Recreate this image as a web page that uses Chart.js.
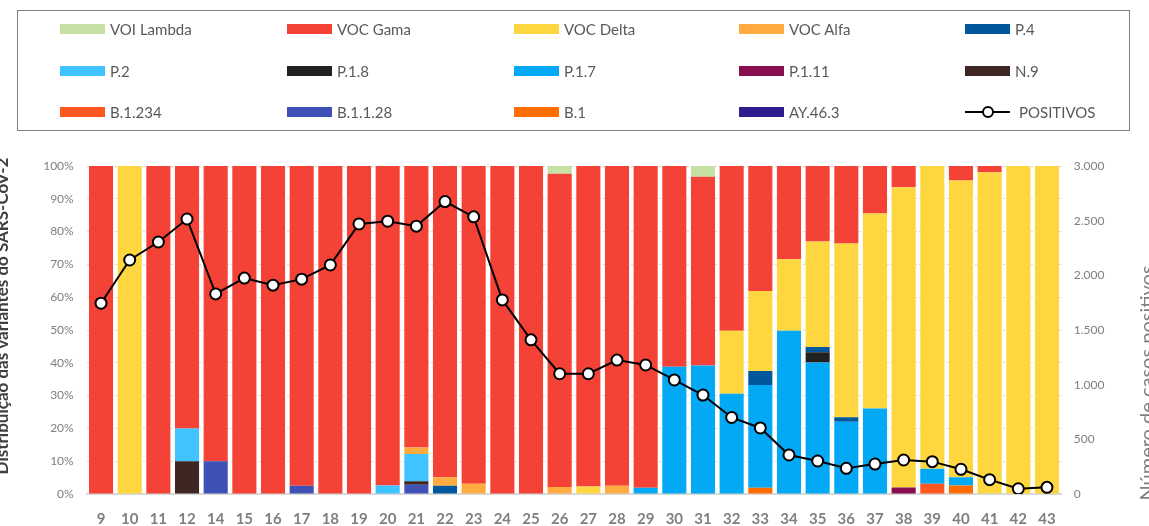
<!DOCTYPE html>
<html lang="pt">
<head>
<meta charset="UTF-8">
<title>Distribuição das variantes do SARS-CoV-2</title>
<script src="https://cdn.jsdelivr.net/npm/chart.js@4.4.1/dist/chart.umd.min.js"></script>
<style>
    html, body {
        margin: 0;
        padding: 0;
        background: #fff;
        overflow: hidden;
    }
    #wrap {
        position: relative;
        width: 1149px;
        height: 526px;
    }
    #chart {
        position: absolute;
        left: 0;
        top: 0;
    }
    #legend {
        position: absolute;
        left: 17px;
        top: 10px;
        width: 1113px;
        height: 121px;
        border: 1px solid #7f7f7f;
        box-sizing: border-box;
    }
    .item {
        position: absolute;
        height: 20px;
        font-family: Lato, "Liberation Sans", sans-serif;
        font-size: 15px;
        color: #595959;
        line-height: 20px;
        white-space: nowrap;
    }
    .swatch {
        position: absolute;
        left: 0;
        top: 5px;
        width: 45px;
        height: 10px;
    }
    .label {
        position: absolute;
        left: 50px;
        top: 0;
    }
    .lineKey {
        position: absolute;
        left: 0;
        top: 9px;
        width: 45px;
        height: 2px;
        background: #000;
    }
    .dotKey {
        position: absolute;
        left: 17px;
        top: 4px;
        width: 8px;
        height: 8px;
        border: 2px solid #000;
        border-radius: 50%;
        background: #fff;
    }
</style>
</head>
<body>
<div id="wrap">
    <canvas id="chart" width="1149" height="526"></canvas>
    <div id="legend"></div>
</div>

<script>
    // semanas epidemiológicas (a semana 13 não aparece)
    const weeks = ['9', '10', '11', '12', '14', '15', '16', '17', '18', '19', '20', '21', '22', '23', '24', '25', '26',
        '27', '28', '29', '30', '31', '32', '33', '34', '35', '36', '37', '38', '39', '40', '41', '42', '43'];

    // % de cada variante por semana
    const lambda  = [0, 0, 0, 0, 0, 0, 0, 0, 0, 0, 0, 0, 0, 0, 0, 0, 2.4, 0, 0, 0, 0, 3.3, 0, 0, 0, 0, 0, 0, 0, 0, 0, 0, 0, 0];
    const gama    = [100, 0, 100, 80, 90, 100, 100, 97.5, 100, 100, 97.4, 85.8, 94.9, 96.9, 100, 100, 95.5, 97.7, 97.5, 98.1,
        61.2, 57.5, 50.2, 38.1, 28.4, 23, 23.6, 14.5, 6.5, 0, 4.4, 1.9, 0, 0];
    const delta   = [0, 100, 0, 0, 0, 0, 0, 0, 0, 0, 0, 0, 0, 0, 0, 0, 0, 2.3, 0, 0,
        0, 0, 19.2, 24.4, 21.8, 32.2, 53, 59.4, 91.5, 92.3, 90.5, 98.1, 100, 100];
    const alfa    = [0, 0, 0, 0, 0, 0, 0, 0, 0, 0, 0, 2.0, 2.6, 3.1, 0, 0, 2.1, 0, 2.5, 0, 0, 0, 0, 0, 0, 0, 0, 0, 0, 0, 0, 0, 0, 0];
    const p4      = [0, 0, 0, 0, 0, 0, 0, 0, 0, 0, 0, 0, 2.5, 0, 0, 0, 0, 0, 0, 0, 0, 0, 0, 4.3, 0, 1.6, 1.4, 0, 0, 0, 0, 0, 0, 0];
    const p2      = [0, 0, 0, 10, 0, 0, 0, 0, 0, 0, 2.6, 8.3, 0, 0, 0, 0, 0, 0, 0, 0, 0, 0, 0, 0, 0, 0, 0, 0, 0, 0, 0, 0, 0, 0];
    const p18     = [0, 0, 0, 0, 0, 0, 0, 0, 0, 0, 0, 0, 0, 0, 0, 0, 0, 0, 0, 0, 0, 0, 0, 0, 0, 3.1, 0, 0, 0, 0, 0, 0, 0, 0];
    const p17     = [0, 0, 0, 0, 0, 0, 0, 0, 0, 0, 0, 0, 0, 0, 0, 0, 0, 0, 0, 1.9,
        38.8, 39.2, 30.6, 31.3, 49.8, 40.1, 22, 26.1, 0, 4.6, 2.5, 0, 0, 0];
    const p111    = [0, 0, 0, 0, 0, 0, 0, 0, 0, 0, 0, 0, 0, 0, 0, 0, 0, 0, 0, 0, 0, 0, 0, 0, 0, 0, 0, 0, 2.0, 0, 0, 0, 0, 0];
    const n9      = [0, 0, 0, 10, 0, 0, 0, 0, 0, 0, 0, 1.1, 0, 0, 0, 0, 0, 0, 0, 0, 0, 0, 0, 0, 0, 0, 0, 0, 0, 0, 0, 0, 0, 0];
    const b1234   = [0, 0, 0, 0, 0, 0, 0, 0, 0, 0, 0, 0, 0, 0, 0, 0, 0, 0, 0, 0, 0, 0, 0, 0, 0, 0, 0, 0, 0, 3.1, 0, 0, 0, 0];
    const b1128   = [0, 0, 0, 0, 10, 0, 0, 2.5, 0, 0, 0, 2.8, 0, 0, 0, 0, 0, 0, 0, 0, 0, 0, 0, 0, 0, 0, 0, 0, 0, 0, 0, 0, 0, 0];
    const b1      = [0, 0, 0, 0, 0, 0, 0, 0, 0, 0, 0, 0, 0, 0, 0, 0, 0, 0, 0, 0, 0, 0, 0, 1.9, 0, 0, 0, 0, 0, 0, 2.6, 0, 0, 0];
    const ay463   = [0, 0, 0, 0, 0, 0, 0, 0, 0, 0, 0, 0, 0, 0, 0, 0, 0, 0, 0, 0, 0, 0, 0, 0, 0, 0, 0, 0, 0, 0, 0, 0, 0, 0];

    // número de casos positivos por semana
    const positivos = [1745, 2140, 2305, 2515, 1830, 1975, 1910, 1965, 2095, 2470, 2495, 2450, 2675, 2535, 1775, 1410,
        1100, 1100, 1225, 1180, 1043, 905, 700, 604, 357, 302, 235, 274, 311, 296, 226, 131, 48, 61];

    // séries na ordem da legenda (a pilha é desenhada de baixo para cima na ordem inversa)
    const series = [
        { name: 'VOI Lambda', data: lambda, color: '#c5e1a5' },
        { name: 'VOC Gama', data: gama, color: '#f44336' },
        { name: 'VOC Delta', data: delta, color: '#fed740' },
        { name: 'VOC Alfa', data: alfa, color: '#ffab40' },
        { name: 'P.4', data: p4, color: '#01579b' },
        { name: 'P.2', data: p2, color: '#40c4ff' },
        { name: 'P.1.8', data: p18, color: '#212121' },
        { name: 'P.1.7', data: p17, color: '#03a9f4' },
        { name: 'P.1.11', data: p111, color: '#880e4f' },
        { name: 'N.9', data: n9, color: '#3e2723' },
        { name: 'B.1.234', data: b1234, color: '#ff5722' },
        { name: 'B.1.1.28', data: b1128, color: '#3f51b5' },
        { name: 'B.1', data: b1, color: '#ff6d00' },
        { name: 'AY.46.3', data: ay463, color: '#311b92' },
    ];

    // legenda em 5 colunas
    const legendCols = [60, 287, 514, 739, 965];
    const legendRows = [19, 61, 102];
    const legendEl = document.getElementById('legend');
    const legendItems = series.map(s => ({ name: s.name, color: s.color }));
    legendItems.push({ name: 'POSITIVOS', line: true });
    legendItems.forEach((it, i) => {
        const div = document.createElement('div');
        div.className = 'item';
        div.style.left = (legendCols[i % 5] - 18) + 'px';
        div.style.top = (legendRows[Math.floor(i / 5)] - 11) + 'px';
        if (it.line) {
            div.innerHTML = '<div class="lineKey"></div><div class="dotKey"></div><div class="label" style="left:54px">' + it.name + '</div>';
        } else {
            div.innerHTML = '<div class="swatch" style="background:' + it.color + '"></div><div class="label">' + it.name + '</div>';
        }
        legendEl.appendChild(div);
    });

    function thousands(v) {
        return String(v).replace(/\B(?=(\d{3})+(?!\d))/g, '.');
    }

    // títulos dos eixos verticais (cortados nas bordas, como no original)
    const axisTitles = {
        id: 'axisTitles',
        afterDraw(chart) {
            const ctx = chart.ctx;
            ctx.save();
            ctx.translate(8, 316);
            ctx.rotate(-Math.PI / 2);
            ctx.font = 'bold 17px Lato, sans-serif';
            ctx.fillStyle = '#404040';
            ctx.textAlign = 'center';
            ctx.textBaseline = 'alphabetic';
            ctx.fillText('Distribuição das variantes do SARS-CoV-2', 0, 0);
            ctx.restore();

            ctx.save();
            ctx.translate(1154, 383);
            ctx.rotate(-Math.PI / 2);
            ctx.font = '20px Lato, sans-serif';
            ctx.fillStyle = '#808080';
            ctx.textAlign = 'center';
            ctx.textBaseline = 'alphabetic';
            ctx.fillText('Número de casos positivos', 0, 0);
            ctx.restore();
        }
    };

    Chart.defaults.font.family = 'Lato, "Liberation Sans", sans-serif';

    const barSets = series.slice().reverse().map(s => ({
        type: 'bar',
        label: s.name,
        data: s.data,
        backgroundColor: s.color,
        borderWidth: 0,
        barPercentage: 0.84,
        categoryPercentage: 1,
        yAxisID: 'y',
        order: 2,
    }));

    const lineSet = {
        type: 'line',
        label: 'POSITIVOS',
        data: positivos,
        borderColor: '#000',
        borderWidth: 2,
        pointRadius: 5.5,
        pointBackgroundColor: '#fff',
        pointBorderColor: '#000',
        pointBorderWidth: 2,
        tension: 0,
        yAxisID: 'y2',
        order: 1,
    };

    new Chart(document.getElementById('chart'), {
        data: {
            labels: weeks,
            datasets: barSets.concat([lineSet]),
        },
        options: {
            responsive: false,
            animation: false,
            layout: {
                padding: { top: 166, left: 0, right: 0, bottom: 0 },
            },
            plugins: {
                legend: { display: false },
                tooltip: { enabled: false },
            },
            scales: {
                x: {
                    stacked: true,
                    grid: { display: false, drawTicks: false },
                    border: { display: true, color: '#d9d9d9', width: 2 },
                    ticks: {
                        color: '#7f7f7f',
                        font: { size: 15, weight: 'bold' },
                        padding: 16,
                        maxRotation: 0,
                        autoSkip: false,
                    },
                    afterFit(scale) { scale.height = 32; },
                },
                y: {
                    stacked: true,
                    position: 'left',
                    min: 0,
                    max: 100,
                    grid: { color: '#d9d9d9', lineWidth: 1, drawTicks: false },
                    border: { display: false, dash: [2, 2] },
                    ticks: {
                        stepSize: 10,
                        color: '#7f7f7f',
                        font: { size: 12 },
                        padding: 13,
                        callback: v => v + '%',
                    },
                    afterFit(scale) { scale.width = 86.7; },
                },
                y2: {
                    position: 'right',
                    min: 0,
                    max: 3000,
                    grid: { display: false, drawTicks: false },
                    border: { display: false },
                    ticks: {
                        stepSize: 500,
                        color: '#7f7f7f',
                        font: { size: 12 },
                        padding: 12.5,
                        callback: v => thousands(v),
                    },
                    afterFit(scale) { scale.width = 87.7; },
                },
            },
        },
        plugins: [axisTitles],
    });
</script>
</body>
</html>
